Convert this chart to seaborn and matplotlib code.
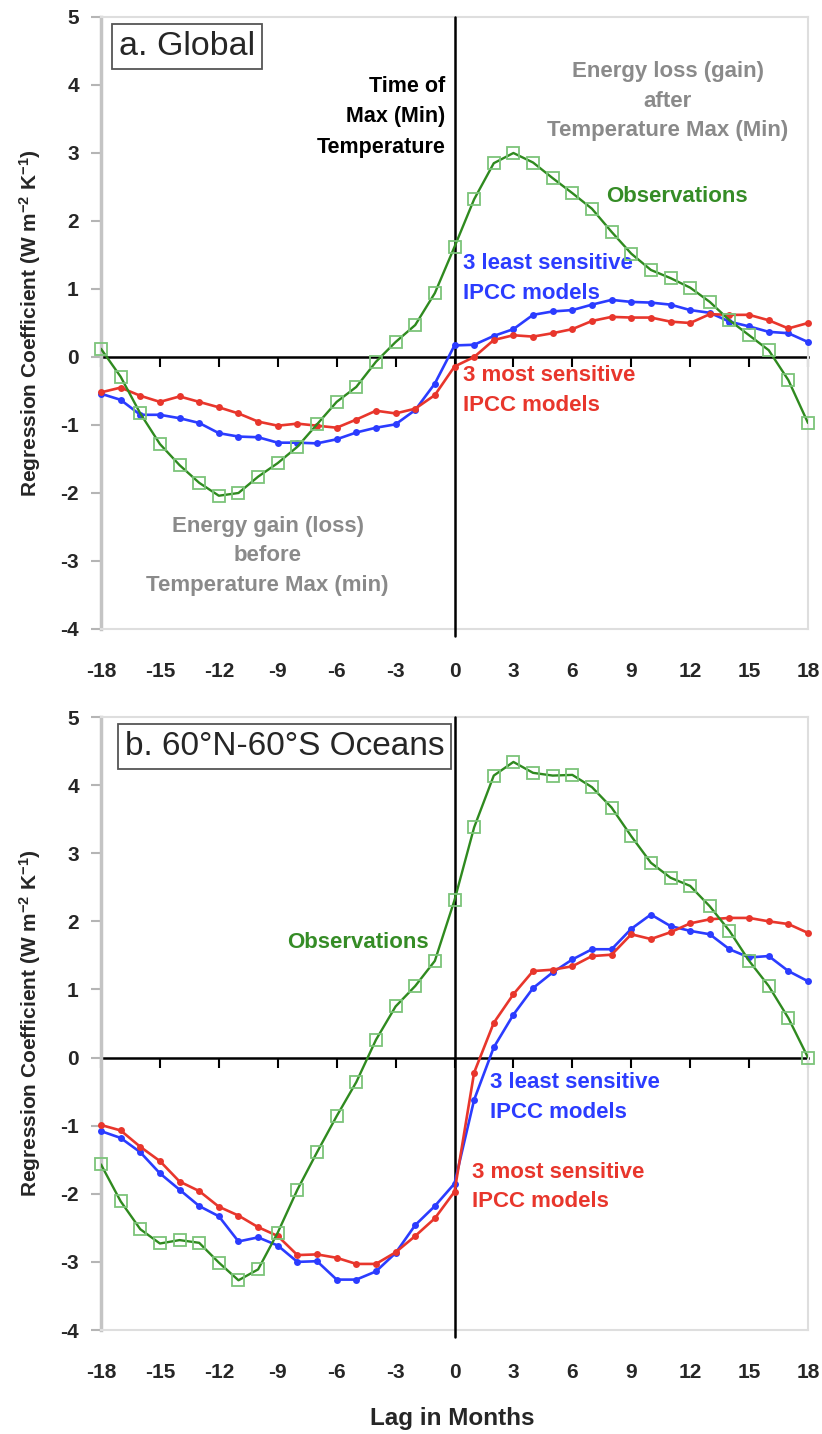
import matplotlib
matplotlib.use("Agg")
import matplotlib.pyplot as plt
import seaborn as sns

# ---------------- data ----------------
lags = list(range(-18, 19))

global_obs = [0.12, -0.29, -0.83, -1.28, -1.59, -1.85, -2.04, -2.00, -1.76, -1.56,
              -1.32, -0.99, -0.66, -0.44, -0.07, 0.22, 0.47, 0.94, 1.62, 2.32,
              2.85, 3.00, 2.86, 2.63, 2.41, 2.18, 1.84, 1.52, 1.28, 1.16,
              1.02, 0.81, 0.54, 0.32, 0.10, -0.34, -0.97]
global_least = [-0.54, -0.63, -0.85, -0.85, -0.90, -0.97, -1.12, -1.17, -1.18, -1.26,
                -1.26, -1.27, -1.21, -1.11, -1.04, -0.99, -0.78, -0.39, 0.17, 0.18,
                0.31, 0.41, 0.62, 0.67, 0.69, 0.77, 0.84, 0.81, 0.80, 0.77,
                0.69, 0.65, 0.52, 0.45, 0.37, 0.35, 0.22]
global_most = [-0.52, -0.45, -0.57, -0.66, -0.58, -0.66, -0.74, -0.83, -0.95, -1.01,
               -0.98, -1.01, -1.04, -0.92, -0.79, -0.83, -0.76, -0.56, -0.14, 0.00,
               0.25, 0.32, 0.30, 0.35, 0.41, 0.53, 0.59, 0.58, 0.58, 0.52,
               0.50, 0.63, 0.62, 0.62, 0.54, 0.42, 0.50]

ocean_obs = [-1.57, -2.11, -2.52, -2.73, -2.68, -2.72, -3.01, -3.27, -3.11, -2.57,
             -1.94, -1.39, -0.86, -0.36, 0.26, 0.75, 1.05, 1.42, 2.31, 3.38,
             4.14, 4.34, 4.18, 4.14, 4.15, 3.97, 3.67, 3.25, 2.86, 2.64,
             2.52, 2.22, 1.86, 1.42, 1.05, 0.58, 0.00]
ocean_least = [-1.08, -1.18, -1.39, -1.70, -1.94, -2.18, -2.33, -2.70, -2.64, -2.76,
               -3.00, -2.99, -3.26, -3.26, -3.14, -2.87, -2.46, -2.18, -1.85, -0.62,
               0.15, 0.63, 1.02, 1.25, 1.44, 1.59, 1.59, 1.89, 2.10, 1.93,
               1.86, 1.81, 1.59, 1.47, 1.49, 1.27, 1.12]
ocean_most = [-0.99, -1.07, -1.31, -1.52, -1.82, -1.96, -2.19, -2.32, -2.49, -2.62,
              -2.90, -2.89, -2.94, -3.03, -3.03, -2.86, -2.62, -2.36, -1.97, -0.22,
              0.51, 0.93, 1.27, 1.29, 1.34, 1.49, 1.51, 1.81, 1.74, 1.84,
              1.97, 2.03, 2.05, 2.05, 2.00, 1.96, 1.83]

x_ticks = list(range(-18, 19, 3))
y_ticks = list(range(-4, 6))

# ---------------- style ----------------
sns.set_theme(style="white")
plt.rcParams["font.family"] = ["Liberation Sans", "DejaVu Sans"]
plt.rcParams["mathtext.fontset"] = "custom"
plt.rcParams["mathtext.rm"] = "Liberation Sans:bold"
plt.rcParams["mathtext.bf"] = "Liberation Sans:bold"
plt.rcParams["mathtext.default"] = "bf"

GREEN = "#2f8a1f"
GREEN_TXT = "#358c26"
GREEN_MK = "#7cc47a"
BLUE = "#2b3cff"
RED = "#e8362c"
GRAY_TXT = "#8a8a8a"

W, H = 822, 1434
fig = plt.figure(figsize=(W / 100, H / 100), dpi=100)
ax_a = fig.add_axes([101 / W, 1 - 629 / H, 707 / W, 612 / H])
ax_b = fig.add_axes([101 / W, 1 - 1330 / H, 707 / W, 613 / H])


def draw_panel(ax, obs, least, most):
    ax.set_facecolor("white")
    sns.lineplot(x=lags, y=least, ax=ax, color=BLUE, lw=1.9, marker="o",
                 markersize=5, markeredgewidth=0, zorder=4, clip_on=False)
    sns.lineplot(x=lags, y=most, ax=ax, color=RED, lw=1.9, marker="o",
                 markersize=5, markeredgewidth=0, zorder=4, clip_on=False)
    sns.lineplot(x=lags, y=obs, ax=ax, color=GREEN, lw=1.7, zorder=5)
    sns.lineplot(x=lags, y=obs, ax=ax, linestyle="none", marker="s",
                 markersize=9, markerfacecolor="none", markeredgecolor=GREEN_MK,
                 markeredgewidth=1.3, zorder=6, clip_on=False)

    ax.set_xlim(-18, 18)
    ax.set_ylim(-4, 5)
    ax.set_xticks(x_ticks)
    ax.set_yticks(y_ticks)
    ax.set_xticklabels([str(t) for t in x_ticks])
    ax.set_yticklabels([str(t) for t in y_ticks])
    ax.set_xlabel("")
    ax.set_ylabel("")
    ax.tick_params(axis="x", length=0, pad=23.5, labelsize=15)
    ax.tick_params(axis="y", length=7, width=1.5, color="#b5b5b5", pad=9,
                   labelsize=15, left=True)
    for lab in ax.get_xticklabels() + ax.get_yticklabels():
        lab.set_fontweight("bold")

    for s in ["top", "right", "bottom"]:
        ax.spines[s].set_color("#dedede")
        ax.spines[s].set_linewidth(1.5)
    ax.spines["left"].set_color("#c4c4c4")
    ax.spines["left"].set_linewidth(2.5)

    # vertical line at time of max temperature
    ax.axvline(0, ymin=-0.012, ymax=1, color="black", lw=1.8, zorder=3,
               clip_on=False)
    # zero line with month ticks
    sec = ax.secondary_xaxis(4 / 9)
    sec.set_xticks(x_ticks)
    sec.tick_params(axis="x", direction="out", length=7, width=1.5,
                    color="black", labelbottom=False, labeltop=False)
    for s in sec.spines.values():
        s.set_color("black")
        s.set_linewidth(1.8)


draw_panel(ax_a, global_obs, global_least, global_most)
draw_panel(ax_b, ocean_obs, ocean_least, ocean_most)

# ---------------- annotations panel a ----------------
box = dict(boxstyle="square,pad=0.2", facecolor="white", edgecolor="#555555",
           linewidth=1.3)
ax_a.text(0.0255, 0.952, "a. Global", transform=ax_a.transAxes, fontsize=24.5,
          ha="left", va="center", bbox=box, zorder=10)
ax_a.text(-0.46, 3.53, "Time of\nMax (Min)\nTemperature", fontsize=15.5,
          fontweight="bold", color="black", ha="right", va="center",
          multialignment="right", linespacing=1.62)
ax_a.text(10.85, 3.76, "Energy loss (gain)\nafter\nTemperature Max (Min)",
          fontsize=16, fontweight="bold", color=GRAY_TXT, ha="center",
          va="center", linespacing=1.53)
ax_a.text(7.74, 2.36, "Observations", fontsize=16, fontweight="bold",
          color=GREEN_TXT, ha="left", va="center")
ax_a.text(0.41, 1.16, "3 least sensitive\nIPCC models", fontsize=16,
          fontweight="bold", color=BLUE, ha="left", va="center",
          linespacing=1.55)
ax_a.text(0.41, -0.49, "3 most sensitive\nIPCC models", fontsize=16,
          fontweight="bold", color=RED, ha="left", va="center",
          linespacing=1.55)
ax_a.text(-9.52, -2.92, "Energy gain (loss)\nbefore\nTemperature Max (min)",
          fontsize=16, fontweight="bold", color=GRAY_TXT, ha="center",
          va="center", linespacing=1.53)

# ---------------- annotations panel b ----------------
ax_b.text(0.034, 0.952, "b. 60°N-60°S Oceans", transform=ax_b.transAxes,
          fontsize=24, ha="left", va="center", bbox=box, zorder=10)
ax_b.text(-1.32, 1.69, "Observations", fontsize=16, fontweight="bold",
          color=GREEN_TXT, ha="right", va="center")
ax_b.text(1.83, -0.59, "3 least sensitive\nIPCC models", fontsize=16,
          fontweight="bold", color=BLUE, ha="left", va="center",
          linespacing=1.55)
ax_b.text(0.87, -1.90, "3 most sensitive\nIPCC models", fontsize=16,
          fontweight="bold", color=RED, ha="left", va="center",
          linespacing=1.55)

# ---------------- axis labels ----------------
ylab = r"Regression Coefficient (W m$^{-2}$ K$^{-1}$)"
fig.text(30 / W, 1 - 323 / H, ylab, rotation=90, ha="center", va="center",
         fontsize=15, fontweight="bold")
fig.text(30 / W, 1 - 1023 / H, ylab, rotation=90, ha="center", va="center",
         fontsize=15, fontweight="bold")
fig.text(452 / W, 1 - 1418 / H, "Lag in Months", ha="center", va="center",
         fontsize=17.5, fontweight="bold")

fig.savefig("out.png", dpi=100, facecolor="white")
